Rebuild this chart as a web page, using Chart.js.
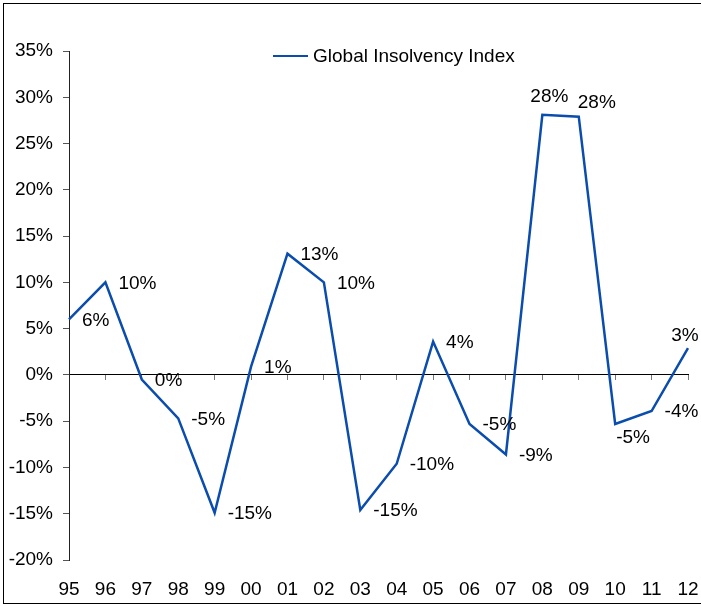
<!DOCTYPE html>
<html>
<head>
<meta charset="utf-8">
<script src="https://cdn.jsdelivr.net/npm/chart.js@4.4.1/dist/chart.umd.min.js"></script>
<style>
  html, body { margin: 0; padding: 0; background: #fff; }
  #wrap { position: relative; width: 701px; height: 606px; overflow: hidden; }
  #frame { position: absolute; left: 3px; top: 3px; width: 720px; height: 599px; border: 1px solid #000; pointer-events: none; }
  #legend { position: absolute; left: 273px; top: 45px; font: 19px "Liberation Sans", Arial, sans-serif; color: #000; white-space: nowrap; }
  #legend i { display: inline-block; width: 35px; height: 2.5px; background: #0A4DAE; vertical-align: middle; margin-right: 5px; position: relative; top: -1px; }
</style>
</head>
<body>
<div id="wrap">
  <canvas id="chart"></canvas>
  <div id="legend"><i></i>Global Insolvency Index</div>
  <div id="frame"></div>
</div>
<script>
const years = ['95', '96', '97', '98', '99', '00', '01', '02', '03', '04', '05', '06', '07', '08', '09', '10', '11', '12'];
const insolvency = [6.0, 10.0, -0.5, -4.7, -14.9, 0.9, 13.1, 10.0, -14.6, -9.6, 3.6, -5.3, -8.6, 28.1, 27.9, -5.3, -3.9, 2.9];
const yTicks = [-20, -15, -10, -5, 0, 5, 10, 15, 20, 25, 30, 35];

// where each value label sits relative to its point
const labelSide = ['right', 'right', 'right', 'right', 'right', 'right', 'right', 'right', 'right',
  'right', 'right', 'right', 'right', 'top', 'topRight', 'below', 'right', 'topEnd'];
const sides = {
  right:    { dx: 13, dy: 1,   align: 'left' },
  top:      { dx: 7,  dy: -18, align: 'center' },
  topRight: { dx: -1, dy: -14, align: 'left' },
  below:    { dx: 1,  dy: 14,  align: 'left' },
  topEnd:   { dx: -3, dy: -12, align: 'center' }
};

const font19 = { family: '"Liberation Sans", Arial, sans-serif', size: 19 };

const valueLabels = {
  id: 'valueLabels',
  afterDatasetsDraw(chart) {
    const ctx = chart.ctx;
    const meta = chart.getDatasetMeta(0);
    ctx.save();
    ctx.font = '19px "Liberation Sans", Arial, sans-serif';
    ctx.fillStyle = '#000';
    ctx.textBaseline = 'middle';
    meta.data.forEach((pt, i) => {
      const s = sides[labelSide[i]];
      ctx.textAlign = s.align;
      ctx.fillText(Math.round(insolvency[i]) + '%', pt.x + s.dx, pt.y + s.dy);
    });
    ctx.restore();
  }
};

new Chart(document.getElementById('chart'), {
  type: 'line',
  data: {
    labels: years,
    datasets: [{
      label: 'Global Insolvency Index',
      data: insolvency,
      borderColor: '#0A4DAE',
      borderWidth: 2.5,
      pointRadius: 0,
      tension: 0,
      fill: false
    }]
  },
  options: {
    responsive: true,
    maintainAspectRatio: false,
    animation: false,
    layout: { padding: { top: 51, right: 13, left: 0, bottom: 0 } },
    plugins: {
      legend: { display: false },
      tooltip: { enabled: false }
    },
    scales: {
      x: {
        offset: false,
        grid: { display: false, drawTicks: false },
        border: { display: false },
        ticks: { color: '#000', font: font19, padding: 18, maxRotation: 0, autoSkip: false },
        afterFit: (scale) => {
          scale.height = 46;
          scale.paddingLeft = 0;
          scale.paddingRight = 0;
        }
      },
      x2: {
        axis: 'x',
        type: 'category',
        position: { y: 0 },
        offset: false,
        grid: { drawOnChartArea: false, drawTicks: true, tickLength: 5, color: '#777' },
        border: { display: true, color: '#000', width: 1 },
        ticks: { display: false },
        afterFit: (scale) => {
          scale.paddingLeft = 0;
          scale.paddingRight = 0;
        }
      },
      y: {
        min: -20,
        max: 35,
        afterBuildTicks: (scale) => { scale.ticks = yTicks.map(v => ({ value: v })); },
        grid: { drawOnChartArea: false, drawTicks: true, tickLength: 6, color: '#555' },
        border: { display: true, color: '#222', width: 1 },
        ticks: { color: '#000', font: font19, padding: 10, callback: (v) => v + '%' },
        afterFit: (scale) => { scale.width = 69; }
      }
    }
  },
  plugins: [valueLabels]
});
</script>
</body>
</html>
